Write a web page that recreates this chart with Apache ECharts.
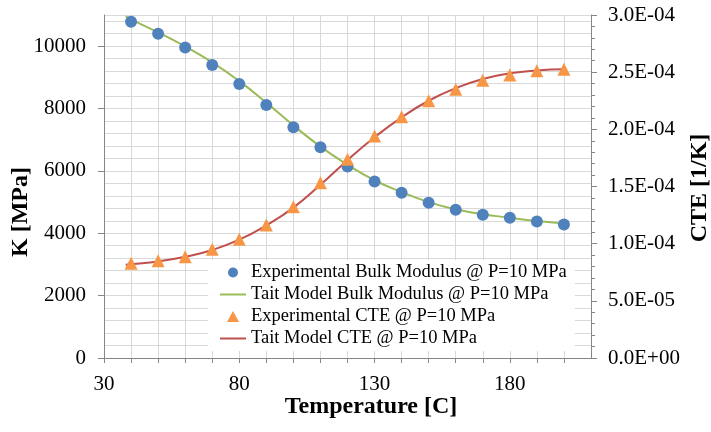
<!DOCTYPE html>
<html>
<head>
<meta charset="utf-8">
<script src="https://cdn.jsdelivr.net/npm/echarts@6/dist/echarts.min.js"></script>
<style>html,body{margin:0;padding:0;background:#fff;}#c{width:711px;height:432px;}</style>
</head>
<body>
<div id="c"></div>
<script>
var temps = [40, 50, 60, 70, 80, 90, 100, 110, 120, 130, 140, 150, 160, 170, 180, 190, 200];
var kExp = [10780, 10400, 9955, 9400, 8785, 8115, 7400, 6760, 6140, 5660, 5300, 4980, 4755, 4595, 4500, 4380, 4285];
var modelTemps = [38, 40, 50, 60, 70, 80, 90, 100, 110, 120, 130, 140, 150, 160, 170, 180, 190, 200];
var kModel = [10960, 10860, 10440, 9990, 9480, 8880, 8190, 7460, 6780, 6200, 5700, 5320, 5000, 4770, 4610, 4500, 4390, 4310];
var cteExp = [8.28e-5, 8.51e-5, 8.86e-5, 9.51e-5, 1.038e-4, 1.163e-4, 1.323e-4, 1.533e-4, 1.738e-4, 1.942e-4, 2.11e-4, 2.25e-4, 2.35e-4, 2.43e-4, 2.475e-4, 2.513e-4, 2.525e-4];
var cteModel = [8.15e-5, 8.2e-5, 8.45e-5, 8.85e-5, 9.45e-5, 1.035e-4, 1.16e-4, 1.315e-4, 1.515e-4, 1.73e-4, 1.93e-4, 2.105e-4, 2.25e-4, 2.36e-4, 2.44e-4, 2.49e-4, 2.515e-4, 2.525e-4];
var xLabels = [30, 80, 130, 180];
var kLabels = [0, 2000, 4000, 6000, 8000, 10000];
var names = ['Experimental Bulk Modulus @ P=10 MPa', 'Tait Model Bulk Modulus @ P=10 MPa', 'Experimental CTE @ P=10 MPa', 'Tait Model CTE @ P=10 MPa'];

function pairs(xs, ys) { return xs.map(function (x, i) { return [x, ys[i]]; }); }
function sci(v) {
  if (Math.abs(v) < 1e-12) return '0.0E+00';
  var p = v.toExponential(1).split('e');
  var e = parseInt(p[1], 10);
  var s = e < 0 ? '-' : '+';
  var a = Math.abs(e);
  return p[0] + 'E' + s + (a < 10 ? '0' + a : '' + a);
}
var FONT = "'Liberation Serif', 'Times New Roman', serif";
var axisLineColor = '#868686';
var gridColor = '#d9d9d9';
var BOX = ' M0,0L0.01,0L0.01,0.01Z M26,12L25.99,12L25.99,11.99Z';
var LINE_ICON = 'path://M0,5L26,5L26,7L0,7Z' + BOX;
var CIRCLE_ICON = 'path://M13,1A5,5 0 1,1 12.99,1Z' + BOX;
var TRI_ICON = 'path://M13,0.5L19,11.5L7,11.5Z' + BOX;

var chart = echarts.init(document.getElementById('c'), null, { renderer: 'canvas' });
chart.setOption({
  animation: false,
  backgroundColor: '#ffffff',
  grid: { left: 104, right: 120, top: 15, bottom: 74, containLabel: false },
  xAxis: {
    type: 'value', min: 30, max: 210, interval: 10,
    axisLine: { show: true, lineStyle: { color: axisLineColor, width: 1 } },
    axisTick: { show: true, length: 5, lineStyle: { color: axisLineColor } },
    axisLabel: {
      showMaxLabel: false,
      formatter: function (v) { return xLabels.indexOf(v) >= 0 ? String(v) : ''; },
      color: '#000', fontFamily: FONT, fontSize: 21, margin: 16
    },
    splitLine: { show: true, lineStyle: { color: gridColor, width: 1 } }
  },
  yAxis: [
    {
      type: 'value', position: 'left', min: 0, max: 11000, interval: 2000,
      axisLine: { show: true, lineStyle: { color: axisLineColor, width: 1 } },
      axisTick: { show: true, customValues: kLabels, length: 6, lineStyle: { color: axisLineColor } },
      axisLabel: {
        showMaxLabel: false,
        formatter: function (v) { return kLabels.indexOf(v) >= 0 ? String(v) : ''; },
        color: '#000', fontFamily: FONT, fontSize: 21, margin: 18
      },
      splitLine: { show: false }
    },
    {
      type: 'value', position: 'right', min: 0, max: 3e-4, interval: 5e-5,
      axisLine: { show: true, lineStyle: { color: axisLineColor, width: 1 } },
      axisTick: { show: true, length: 6, lineStyle: { color: axisLineColor } },
      minorTick: { show: true, splitNumber: 5, length: 4, lineStyle: { color: axisLineColor } },
      axisLabel: { formatter: sci, color: '#000', fontFamily: FONT, fontSize: 21, margin: 17 },
      splitLine: { show: false }
    },
    {
      type: 'value', position: 'left', min: 0, max: 11000, interval: 400,
      axisLine: { show: false }, axisTick: { show: false }, axisLabel: { show: false },
      splitLine: { show: true, lineStyle: { color: gridColor, width: 1 } }
    }
  ],
  legend: {
    orient: 'vertical', left: 208, top: 260,
    padding: [3, 8, 3, 12], itemGap: 3, itemWidth: 26, itemHeight: 12,
    symbolKeepAspect: true,
    backgroundColor: '#ffffff',
    textStyle: { color: '#000', fontFamily: FONT, fontSize: 18.5, lineHeight: 19 },
    data: [
      { name: names[0], icon: CIRCLE_ICON },
      { name: names[1], icon: LINE_ICON },
      { name: names[2], icon: TRI_ICON },
      { name: names[3], icon: LINE_ICON }
    ]
  },
  graphic: [
    { type: 'text', x: 21, y: 212, rotation: Math.PI / 2,
      style: { text: 'K [MPa]', font: "bold 24px 'Liberation Serif', serif", fill: '#000', textAlign: 'center', textVerticalAlign: 'middle', align: 'center', verticalAlign: 'middle' } },
    { type: 'text', x: 700, y: 188, rotation: Math.PI / 2,
      style: { text: 'CTE [1/K]', font: "bold 24px 'Liberation Serif', serif", fill: '#000', textAlign: 'center', textVerticalAlign: 'middle', align: 'center', verticalAlign: 'middle' } },
    { type: 'text', x: 371, y: 407,
      style: { text: 'Temperature [C]', font: "bold 24px 'Liberation Serif', serif", fill: '#000', textAlign: 'center', textVerticalAlign: 'middle', align: 'center', verticalAlign: 'middle' } }
  ],
  series: [
    { name: names[0], type: 'scatter', yAxisIndex: 0, data: pairs(temps, kExp), symbol: 'circle', symbolSize: 12,
      itemStyle: { color: '#4f81bd', opacity: 1 }, z: 3 },
    { name: names[1], type: 'line', yAxisIndex: 0, data: pairs(modelTemps, kModel), smooth: true, symbol: 'none', showSymbol: false,
      lineStyle: { color: '#9bbb59', width: 2 }, itemStyle: { color: '#9bbb59' }, z: 2 },
    { name: names[2], type: 'scatter', yAxisIndex: 1, data: pairs(temps, cteExp), symbol: 'triangle', symbolSize: 13,
      itemStyle: { color: '#f79646', opacity: 1 }, z: 4 },
    { name: names[3], type: 'line', yAxisIndex: 1, data: pairs(modelTemps, cteModel), smooth: true, symbol: 'none', showSymbol: false,
      lineStyle: { color: '#c0504d', width: 2 }, itemStyle: { color: '#c0504d' }, z: 2 }
  ]
});
</script>
</body>
</html>
